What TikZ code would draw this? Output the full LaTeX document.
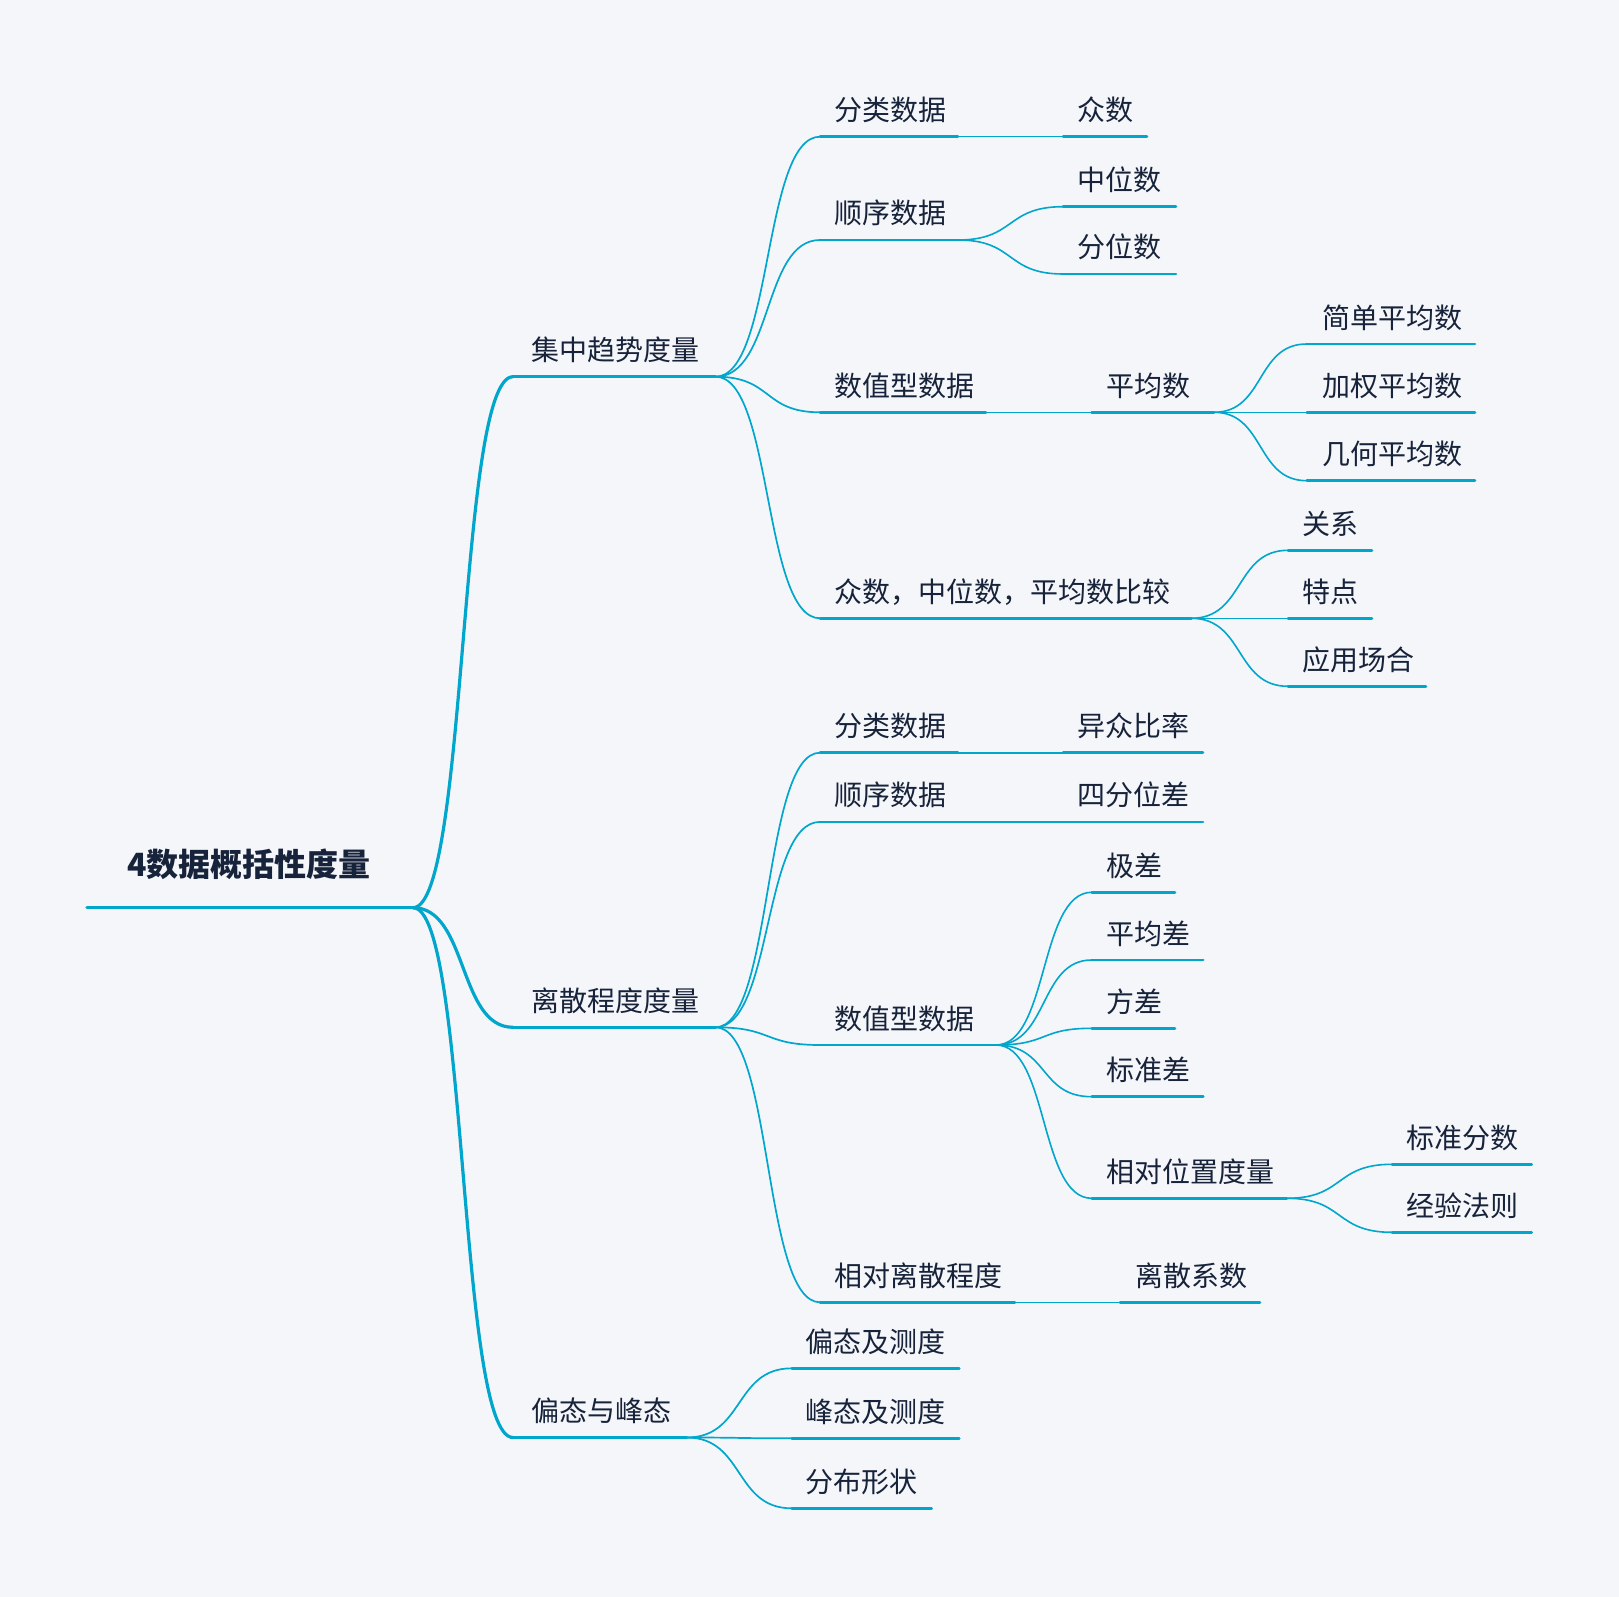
\documentclass[tikz,border=0pt]{standalone}
\usepackage{fontspec}
\newfontfamily\cjk{Noto Sans CJK SC}
\usetikzlibrary{calc}
\definecolor{bg}{HTML}{F5F6FA}
\definecolor{ln}{HTML}{00A6CC}
\definecolor{tx}{HTML}{17233A}
\tikzset{
  lbl/.style={anchor=base west, inner sep=0pt, text=tx, yshift=16pt, font=\cjk\fontsize{28}{33}\selectfont},
  rootlbl/.style={anchor=base west, inner sep=0pt, text=tx, yshift=31pt, font=\cjk\bfseries\fontsize{32}{38}\selectfont},
  ulroot/.style={draw=ln, line width=3.2pt, line cap=round},
  ulone/.style={draw=ln, line width=3pt, line cap=round},
  ultwo/.style={draw=ln, line width=2.5pt, line cap=round},
  linkroot/.style={draw=ln, line width=3.2pt, line cap=round},
  linkone/.style={draw=ln, line width=1.7pt, line cap=round},
  linktwo/.style={draw=ln, line width=1.6pt, line cap=round},
}
% #1 name, #2 x start, #3 x end, #4 y, #5 underline style, #6 label style, #7 text x, #8 text
\newcommand\mmtopic[8]{%
  \coordinate (#1-s) at (#2,-#4);
  \coordinate (#1-e) at (#3,-#4);
  \node[#6] (#1) at (#7,-#4) {#8};
  \draw[#5] (#1-s) -- (#1-e);}
% #1 style, #2 parent, #3 child
\newcommand\mmlink[3]{%
  \draw[#1] let \p1=(#2-e), \p2=(#3-s), \n1={0.55*(\x2-\x1)} in
    (\p1) .. controls (\x1+\n1,\y1) and (\x2-\n1,\y2) .. (\p2);}
\begin{document}
\begin{tikzpicture}[x=1pt,y=1pt]
\fill[bg] (0,0) rectangle (1619,-1597);
\useasboundingbox (0,0) rectangle (1619,-1597);
% root
\mmtopic{R}{87}{413}{907.7}{ulroot}{rootlbl}{127}{4数据概括性度量}
% level 1
\mmtopic{A}{513}{715.5}{376.7}{ulone}{lbl}{531}{集中趋势度量}
\mmtopic{B}{513}{715.5}{1027.3}{ulone}{lbl}{531}{离散程度度量}
\mmtopic{C}{513}{686.7}{1437.5}{ulone}{lbl}{531}{偏态与峰态}
% under A
\mmtopic{A1}{820}{958}{136.7}{ultwo}{lbl}{834}{分类数据}
\mmtopic{A11}{1063}{1147}{136.7}{ultwo}{lbl}{1077}{众数}
\mmtopic{A2}{820}{958}{240}{ultwo}{lbl}{834}{顺序数据}
\mmtopic{A21}{1063}{1176}{206.7}{ultwo}{lbl}{1077}{中位数}
\mmtopic{A22}{1063}{1176}{274}{ultwo}{lbl}{1077}{分位数}
\mmtopic{A3}{820}{986}{412.3}{ultwo}{lbl}{834}{数值型数据}
\mmtopic{A31}{1091.5}{1214}{412.3}{ultwo}{lbl}{1106}{平均数}
\mmtopic{A311}{1306.7}{1475}{344}{ultwo}{lbl}{1322}{简单平均数}
\mmtopic{A312}{1306.7}{1475}{412.3}{ultwo}{lbl}{1322}{加权平均数}
\mmtopic{A313}{1306.7}{1475}{480.7}{ultwo}{lbl}{1322}{几何平均数}
\mmtopic{A4}{820}{1191.4}{618.3}{ultwo}{lbl}{834}{众数，中位数，平均数比较}
\mmtopic{A41}{1288}{1372}{550.3}{ultwo}{lbl}{1302}{关系}
\mmtopic{A42}{1288}{1372}{618.3}{ultwo}{lbl}{1302}{特点}
\mmtopic{A43}{1288}{1426}{686.3}{ultwo}{lbl}{1302}{应用场合}
% under B
\mmtopic{B1}{820}{958}{752.7}{ultwo}{lbl}{834}{分类数据}
\mmtopic{B11}{1063}{1203}{752.7}{ultwo}{lbl}{1077}{异众比率}
\mmtopic{B2}{820}{958}{821.9}{ultwo}{lbl}{834}{顺序数据}
\mmtopic{B21}{1063}{1203}{821.9}{ultwo}{lbl}{1077}{四分位差}
\mmtopic{B3}{820}{996}{1045}{ultwo}{lbl}{834}{数值型数据}
\mmtopic{B31}{1091.7}{1175}{892.3}{ultwo}{lbl}{1106}{极差}
\mmtopic{B32}{1091.7}{1203.3}{960}{ultwo}{lbl}{1106}{平均差}
\mmtopic{B33}{1091.7}{1175}{1028.3}{ultwo}{lbl}{1106}{方差}
\mmtopic{B34}{1091.7}{1203.3}{1096.7}{ultwo}{lbl}{1106}{标准差}
\mmtopic{B35}{1091.7}{1286.8}{1198.3}{ultwo}{lbl}{1106}{相对位置度量}
\mmtopic{B351}{1392}{1531.7}{1164.3}{ultwo}{lbl}{1406}{标准分数}
\mmtopic{B352}{1392}{1531.7}{1232.3}{ultwo}{lbl}{1406}{经验法则}
\mmtopic{B4}{820}{1015}{1302.3}{ultwo}{lbl}{834}{相对离散程度}
\mmtopic{B41}{1120}{1260}{1302.3}{ultwo}{lbl}{1135.5}{离散系数}
% under C
\mmtopic{C1}{791.7}{959.3}{1368.3}{ultwo}{lbl}{805.7}{偏态及测度}
\mmtopic{C2}{791.7}{959.3}{1438.3}{ultwo}{lbl}{805.7}{峰态及测度}
\mmtopic{C3}{791.7}{931.7}{1508.3}{ultwo}{lbl}{805.7}{分布形状}
% connectors
\mmlink{linkroot}{R}{A}
\mmlink{linkroot}{R}{B}
\mmlink{linkroot}{R}{C}
\mmlink{linkone}{A}{A1}
\mmlink{linkone}{A}{A2}
\mmlink{linkone}{A}{A3}
\mmlink{linkone}{A}{A4}
\mmlink{linkone}{B}{B1}
\mmlink{linkone}{B}{B2}
\mmlink{linkone}{B}{B3}
\mmlink{linkone}{B}{B4}
\mmlink{linkone}{C}{C1}
\mmlink{linkone}{C}{C2}
\mmlink{linkone}{C}{C3}
\mmlink{linktwo}{A1}{A11}
\mmlink{linktwo}{A2}{A21}
\mmlink{linktwo}{A2}{A22}
\mmlink{linktwo}{A3}{A31}
\mmlink{linktwo}{A31}{A311}
\mmlink{linktwo}{A31}{A312}
\mmlink{linktwo}{A31}{A313}
\mmlink{linktwo}{A4}{A41}
\mmlink{linktwo}{A4}{A42}
\mmlink{linktwo}{A4}{A43}
\mmlink{linktwo}{B1}{B11}
\mmlink{linktwo}{B2}{B21}
\mmlink{linktwo}{B3}{B31}
\mmlink{linktwo}{B3}{B32}
\mmlink{linktwo}{B3}{B33}
\mmlink{linktwo}{B3}{B34}
\mmlink{linktwo}{B3}{B35}
\mmlink{linktwo}{B35}{B351}
\mmlink{linktwo}{B35}{B352}
\mmlink{linktwo}{B4}{B41}
\end{tikzpicture}
\end{document}
